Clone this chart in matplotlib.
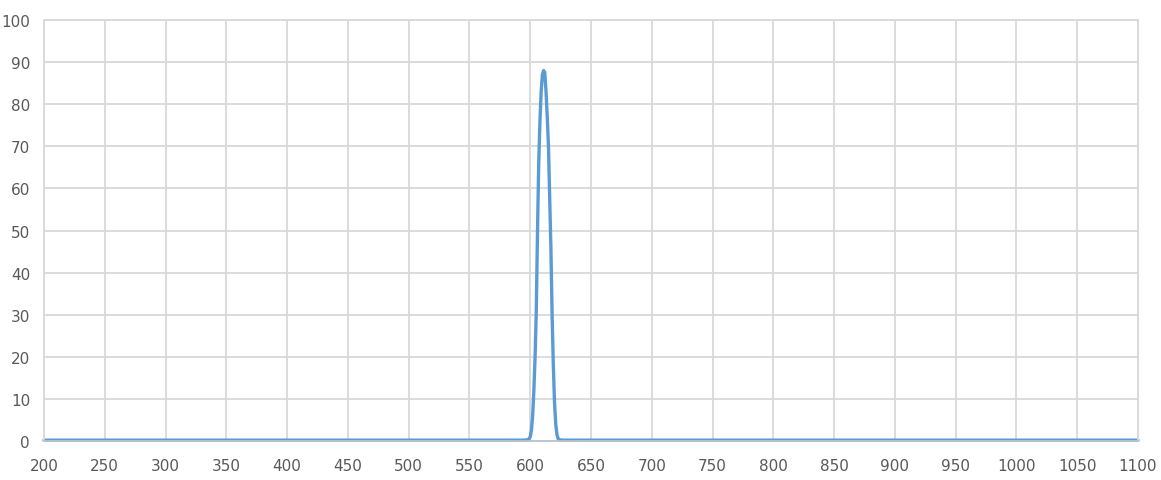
import matplotlib
matplotlib.use("Agg")
import matplotlib.pyplot as plt

wavelength = [200, 560, 595, 598, 599, 600, 601, 602, 603, 604, 605, 606, 607, 608, 609, 610,
              611, 612, 613, 614, 615, 616, 617, 618, 619, 620, 621, 622, 623, 624, 627, 660, 1100]
transmission = [0.2, 0.2, 0.2, 0.3, 0.5, 1.0, 2.5, 6, 12, 20, 31, 50, 66, 76, 83, 87,
                88, 87.5, 83, 77, 70, 58, 46, 30, 18, 9, 4, 1.5, 0.5, 0.3, 0.2, 0.2, 0.2]
x_ticks = list(range(200, 1101, 50))
y_ticks = list(range(0, 101, 10))

W, H = 1161, 481
fig = plt.figure(figsize=(W / 100, H / 100), dpi=100)
ax = fig.add_axes([44 / W, (H - 442) / H, (1138 - 44) / W, (442 - 21) / H])

grid_c = "#D9D9D9"
ax.set_xlim(200, 1100)
ax.set_ylim(0, 100)
ax.set_xticks(x_ticks)
ax.set_yticks(y_ticks)
ax.grid(True, color=grid_c, linewidth=1.3)
ax.set_axisbelow(True)
for s in ax.spines.values():
    s.set_color(grid_c)
    s.set_linewidth(1.3)
ax.spines["bottom"].set_color("#B8C4CE")
ax.tick_params(length=0, labelsize=11, labelcolor="#595959", pad=12)
ax.tick_params(axis="y", pad=10)

ax.plot(wavelength, transmission, color="#5B9BD5", linewidth=2.4, clip_on=False,
        solid_capstyle="round", solid_joinstyle="round")

fig.savefig("out.png", dpi=100)
